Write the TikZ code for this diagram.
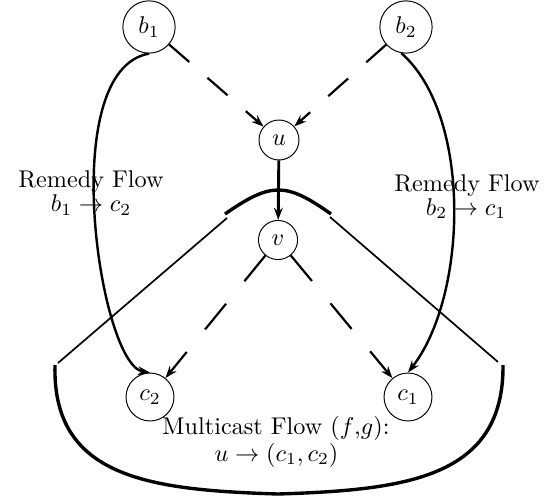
\documentclass[tikz,border=0pt]{standalone}
\usetikzlibrary{arrows.meta}
\begin{document}
\begin{tikzpicture}[x=0.4132pt,y=-0.4132pt,
  vertex/.style={circle,draw,line width=0.4pt},
  tipA/.style={-{Stealth[length=5pt,width=3.6pt]}},
  dflow/.style={line width=0.9pt,tipA},
  rflow/.style={line width=1pt,tipA},
  thickarc/.style={line width=1.4pt},
  thinedge/.style={line width=0.7pt},
  lbl/.style={anchor=base,inner sep=0pt}]
\useasboundingbox (0,0) rectangle (552,497);
% labels
\node[lbl] (rl1) at (91,187.7) {Remedy Flow};
\node[lbl] (rl2) at (91,211.7) {$b_1\to c_2$};
\node[lbl] (rr1) at (467,191.7) {Remedy Flow};
\node[lbl] (rr2) at (466,215) {$b_2\to c_1$};
\node[lbl] (m1) at (276,434) {Multicast Flow ($f$,$g$):};
\node[lbl] (m2) at (276.5,461) {$u\to(c_1,c_2)$};
% vertices
\node[vertex] (b1) at (149,27) {$b_1$};
\node[vertex] (b2) at (406,27) {$b_2$};
\node[vertex] (u) at (279,140) {$u$};
\node[vertex] (v) at (278,240) {$v$};
\node[vertex] (c2) at (150,397) {$c_2$};
\node[vertex] (c1) at (408,397) {$c_1$};
% multicast region
\draw[thickarc] (225,214) .. controls (271,182) and (286,182) .. (331,214);
\draw[thinedge] (227,218) -- (58,363);
\draw[thinedge] (330,217) -- (498,362);
\draw[thickarc] (55,365) .. controls (52,478) and (150,490) .. (278,494)
  .. controls (406,490) and (504,478) .. (503,365);
% dashed flows
\draw[dflow,dash pattern=on 11pt off 10pt] (b1) -- (u);
\draw[dflow,dash pattern=on 11pt off 10pt] (b2) -- (u);
\draw[dflow,dash pattern=on 13.7pt off 12pt] (v) -- (c2);
\draw[dflow,dash pattern=on 13.7pt off 12pt] (v) -- (c1);
% u -> v
\draw[line width=1.2pt,tipA] (u) -- (v);
% remedy flows
\draw[rflow] (b1.south) .. controls (55,70) and (100,365) .. (c2.north);
\draw[rflow] (b2.-100) .. controls (472,115) and (468,295) .. (c1.north);
\end{tikzpicture}
\end{document}
